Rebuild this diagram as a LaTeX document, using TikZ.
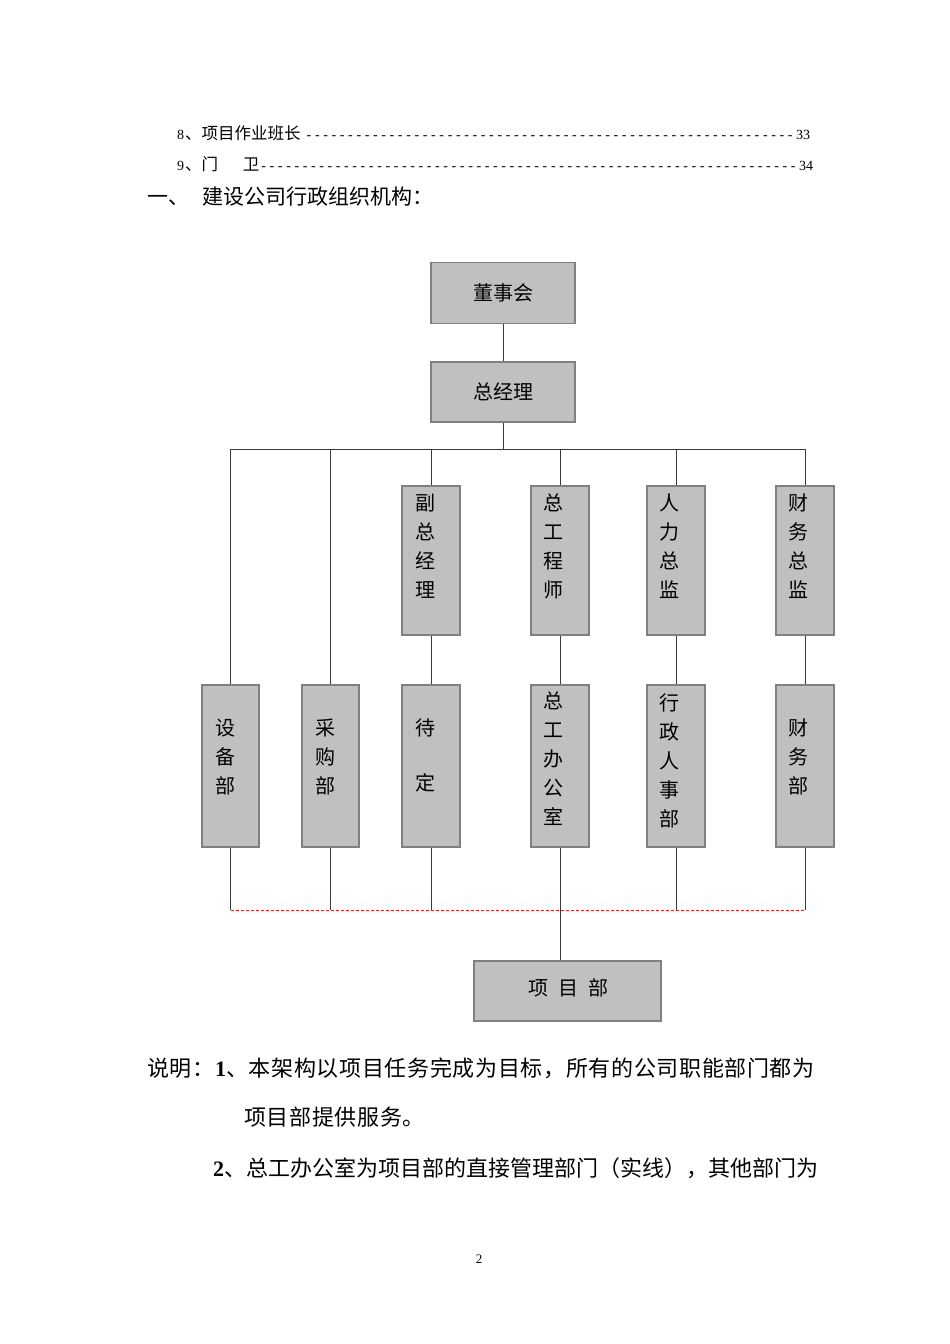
\documentclass[tikz,border=0pt]{standalone}
\usepackage{fontspec}
\setmainfont{Liberation Serif}
\newfontfamily\cjk{Noto Sans CJK SC}
\newfontfamily\cjkwide[LetterSpace=3]{Noto Sans CJK SC}
\definecolor{boxfill}{HTML}{C0C0C0}
\definecolor{boxedge}{HTML}{808080}
\definecolor{linec}{HTML}{3A3A3A}
\definecolor{dashred}{HTML}{E02020}
\begin{document}
\begin{tikzpicture}[x=1pt,y=-1pt,
  orgbox/.style={draw=boxedge,fill=boxfill,line width=1.4pt,inner sep=0pt,rectangle},
  vbox/.style={orgbox,minimum width=58pt},
  hbox/.style={orgbox,minimum width=144pt,minimum height=61pt,font=\cjk\fontsize{20}{24}\selectfont},
  vlabel/.style={anchor=north,inner sep=0pt,align=center,font=\cjk\fontsize{20}{29}\selectfont},
  conn/.style={draw=linec,line width=0.9pt},
  dashconn/.style={draw=dashred,line width=1pt,dash pattern=on 3pt off 2pt},
  txt/.style={anchor=west,inner sep=0pt}
]
\useasboundingbox (0,0) rectangle (950,1344);

% table of contents lines
\node[txt] (toc8) at (177,133) {\hbox to 633pt{\fontsize{14}{16}\selectfont 8\kern1pt{\cjk\fontsize{16.5}{18}\selectfont 、项目作业班长}\hspace{6pt}\xleaders\hbox{-\kern3.6pt}\hfill 33}};
\node[txt] (toc9) at (177,164) {\hbox to 636pt{\fontsize{14}{16}\selectfont 9\kern1pt{\cjk\fontsize{16.5}{18}\selectfont 、门\hspace{1.5em}卫}\kern2pt\xleaders\hbox{-\kern3.6pt}\hfill 34}};
\node[txt] (head) at (147,197) {\cjk\fontsize{21}{24}\selectfont 一、\hspace{0.65em}建设公司行政组织机构：};

% top boxes
\node[hbox] (dsh) at (503,293) {董事会};
\node[hbox,minimum height=60pt] (zjl) at (503,392) {总经理};

% second level boxes
\node[vbox,minimum height=149pt] (fzjl) at (431,560.5) {};
\node[vbox,minimum height=149pt] (zgcs) at (560,560.5) {};
\node[vbox,minimum height=149pt] (rlzj) at (676,560.5) {};
\node[vbox,minimum height=149pt] (cwzj) at (805,560.5) {};
\node[vlabel] (fzjlt) at (425,494) {副\\总\\经\\理};
\node[vlabel] (zgcst) at (553.5,494) {总\\工\\程\\师};
\node[vlabel] (rlzjt) at (669.5,494) {人\\力\\总\\监};
\node[vlabel] (cwzjt) at (798.5,494) {财\\务\\总\\监};

% third level boxes
\node[vbox,minimum width=57pt,minimum height=162pt] (sbb) at (230.5,766) {};
\node[vbox,minimum width=57pt,minimum height=162pt] (cgb) at (330.5,766) {};
\node[vbox,minimum height=162pt] (dd) at (431,766) {};
\node[vbox,minimum height=162pt] (zgbgs) at (560,766) {};
\node[vbox,minimum height=162pt] (xzrsb) at (676,766) {};
\node[vbox,minimum height=162pt] (cwb) at (805,766) {};
\node[vlabel] (sbbt) at (225,719) {设\\备\\部};
\node[vlabel] (cgbt) at (325,719) {采\\购\\部};
\node[vlabel] (ddt) at (425,719) {待\\[26pt]定};
\node[vlabel] (zgbgst) at (553.5,692) {总\\工\\办\\公\\室};
\node[vlabel] (xzrsbt) at (669.5,693) {行\\政\\人\\事\\部};
\node[vlabel] (cwbt) at (798.5,719) {财\\务\\部};

% project department
\node[orgbox,minimum width=187pt,minimum height=60pt] (xmb) at (567.5,991) {};
\node[inner sep=0pt,font=\cjk\fontsize{20}{24}\selectfont] (xmbt) at (568,988) {项\hspace{0.5em}目\hspace{0.5em}部};

% connectors
\coordinate (bus) at (503,449);
\coordinate (dl) at (503,910);
\draw[conn] (dsh) -- (zjl);
\draw[conn] (zjl.south) -- (bus);
\draw[conn] (bus -| sbb.north) -- (bus -| cwb.north);
\foreach \b in {fzjl,zgcs,rlzj,cwzj} {\draw[conn] (bus -| \b.north) -- (\b.north);}
\draw[conn] (bus -| sbb.north) -- (sbb.north);
\draw[conn] (bus -| cgb.north) -- (cgb.north);
\draw[conn] (fzjl) -- (dd);
\draw[conn] (zgcs) -- (zgbgs);
\draw[conn] (rlzj) -- (xzrsb);
\draw[conn] (cwzj) -- (cwb);
\foreach \b in {sbb,cgb,dd,xzrsb,cwb} {\draw[conn] (\b.south) -- (\b.south |- dl);}
\draw[dashconn] (sbb.south |- dl) -- (cwb.south |- dl);
\draw[conn] (zgbgs.south) -- (zgbgs.south |- xmb.north);

% notes
\node[txt] (note1) at (147,1068) {\fontsize{22}{24}\selectfont{\cjkwide 说明：}\textbf{1}{\cjkwide 、本架构以项目任务完成为目标，所有的公司职能部门都为}};
\node[txt] (note1b) at (244,1117) {\cjkwide\fontsize{22}{24}\selectfont 项目部提供服务。};
\node[txt] (note2) at (213,1168) {\fontsize{22}{24}\selectfont\textbf{2}{\cjk 、总工办公室为项目部的直接管理部门（实线），其他部门为}};
\node (pnum) at (479,1259) {\fontsize{13}{15}\selectfont 2};
\end{tikzpicture}
\end{document}
